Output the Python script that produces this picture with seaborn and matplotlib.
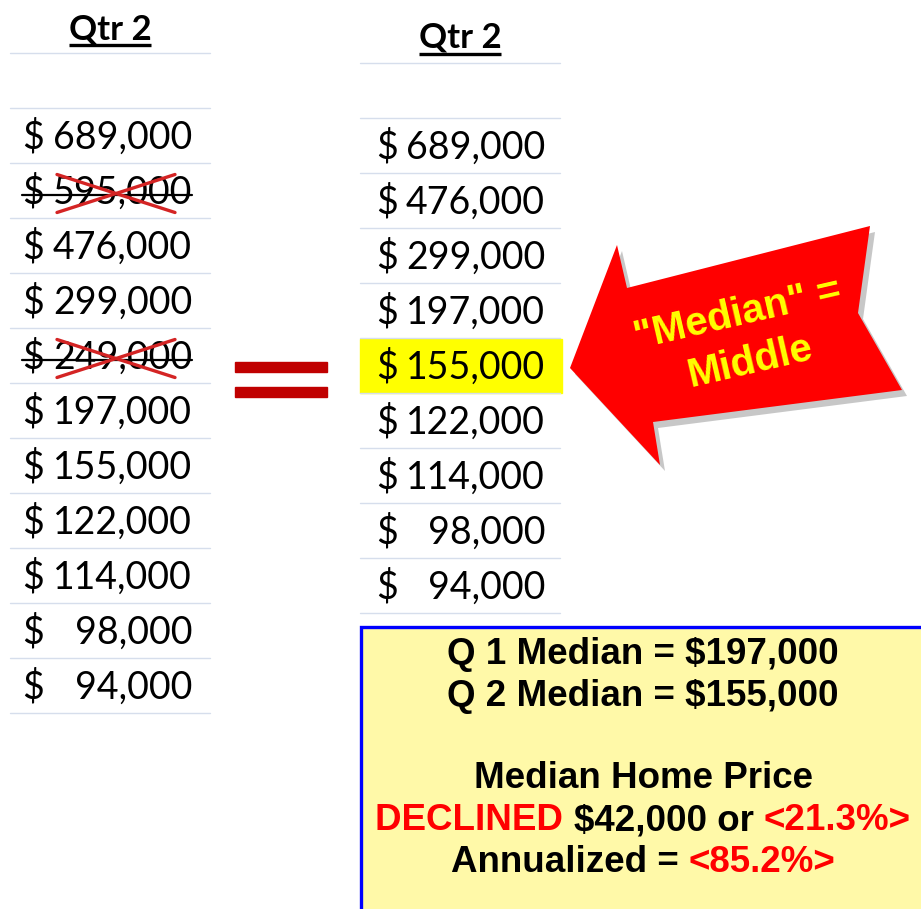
import numpy as np
import matplotlib.pyplot as plt
import seaborn as sns
from matplotlib.patches import Polygon, Rectangle

sns.set_theme(style="white", rc={"text.color": "black"})

# values
header = "Qtr 2"
q2_all = [689000, 595000, 476000, 299000, 249000, 197000, 155000, 122000, 114000, 98000, 94000]
crossed_out = [595000, 249000]
q2_sorted = [689000, 476000, 299000, 197000, 155000, 122000, 114000, 98000, 94000]
q1_median = 197000
q2_median = 155000
decline = q1_median - q2_median
pct_decline = 21.3
annualized = 85.2

num_font = "Lato"
bold_font = "Liberation Sans"
grid_col = "#D6DEEC"

fig = plt.figure(figsize=(9.21, 9.09), dpi=100)
ax = fig.add_axes([0, 0, 1, 1])
ax.set_xlim(0, 921)
ax.set_ylim(909, 0)
ax.axis("off")
renderer = fig.canvas.get_renderer()


def draw_header(xc, y, underline_y):
    t = ax.text(xc, y, header, ha="center", va="center", fontsize=25, fontweight="bold",
                family=num_font, color="black")
    bb = t.get_window_extent(renderer)
    ax.plot([bb.x0, bb.x1], [underline_y, underline_y], color="black", lw=2.4, solid_capstyle="butt")


def draw_column(values, x0, x1, top, dollar_x, num_right, first_line, highlight=None):
    draw_header((x0 + x1) / 2, top, top + 16)
    ax.plot([x0, x1], [first_line, first_line], color=grid_col, lw=1)
    row0 = first_line + 55
    for i, v in enumerate(values):
        y_line = row0 + 55 * i
        yc = y_line + 27.5 + 2
        if highlight is not None and v == highlight:
            ax.add_patch(Rectangle((x0, y_line + 1), x1 - x0 + 2, 54, color="#FFFF00", zorder=0))
        ax.plot([x0, x1], [y_line, y_line], color=grid_col, lw=1, zorder=1)
        ax.text(dollar_x, yc, "$", ha="left", va="center", fontsize=27, family=num_font, color="black")
        ax.text(num_right, yc, f"{v:,}", ha="right", va="center", fontsize=27, family=num_font,
                color="black")
        if v in crossed_out:
            ax.plot([dollar_x, num_right], [yc + 2, yc + 2], color="black", lw=1.6, zorder=3)
    ax.plot([x0, x1], [row0 + 55 * len(values), row0 + 55 * len(values)], color=grid_col, lw=1)
    return row0


row0 = draw_column(q2_all, 10, 210, 29, 22, 192, 53)
# red crosses over the removed values
for v in crossed_out:
    i = q2_all.index(v)
    yc = row0 + 55 * i + 29.5
    ax.plot([57, 175], [yc - 18, yc + 20], color="#D42424", lw=2.4, zorder=4)
    ax.plot([57, 175], [yc + 20, yc - 18], color="#D42424", lw=2.4, zorder=4)

draw_column(q2_sorted, 360, 560, 38, 376, 545, 63, highlight=q2_median)

# equals sign
ax.add_patch(Rectangle((235, 362), 92, 10, color="#C00000", zorder=2))
ax.add_patch(Rectangle((235, 387), 92, 10, color="#C00000", zorder=2))

# arrow with shadow
arrow = np.array([(570, 368), (617, 245), (627, 288), (870, 226), (858, 313),
                  (902, 390), (653, 422), (660, 465)])
ax.add_patch(Polygon(arrow + [5, 6], closed=True, color="#9A9A9A", alpha=0.55, zorder=4, lw=0))
ax.add_patch(Polygon(arrow, closed=True, color="#FF0000", zorder=5, lw=0))
ax.text(738, 314, '"Median" =', ha="center", va="center", rotation=13, fontsize=29,
        fontweight="bold", family=bold_font, color="#FFFF00", zorder=6)
ax.text(750, 362, "Middle", ha="center", va="center", rotation=13, fontsize=29,
        fontweight="bold", family=bold_font, color="#FFFF00", zorder=6)

# summary box
ax.add_patch(Rectangle((361, 627), 570, 300, facecolor="#FFF9A8", edgecolor="#0000FF", lw=2.4, zorder=2))


def colored_line(xc, y, parts, size=26.5):
    texts = []
    for s, c in parts:
        texts.append(ax.text(0, y, s, ha="left", va="center", fontsize=size, fontweight="bold",
                             family=bold_font, color=c, zorder=6))
    widths = [t.get_window_extent(renderer).width for t in texts]
    x = xc - sum(widths) / 2
    for t, w in zip(texts, widths):
        t.set_x(x)
        x += w


red = "#FF0000"
colored_line(643, 655, [(f"Q 1 Median = ${q1_median:,}", "black")])
colored_line(643, 697, [(f"Q 2 Median = ${q2_median:,}", "black")])
colored_line(643, 779, [("Median Home Price", "black")])
colored_line(643, 821, [("DECLINED ", red), (f"${decline:,} or ", "black"), (f"<{pct_decline}%>", red)])
colored_line(643, 862, [("Annualized = ", "black"), (f"<{annualized}%>", red)])

fig.savefig("out.png", dpi=100, facecolor="white")
